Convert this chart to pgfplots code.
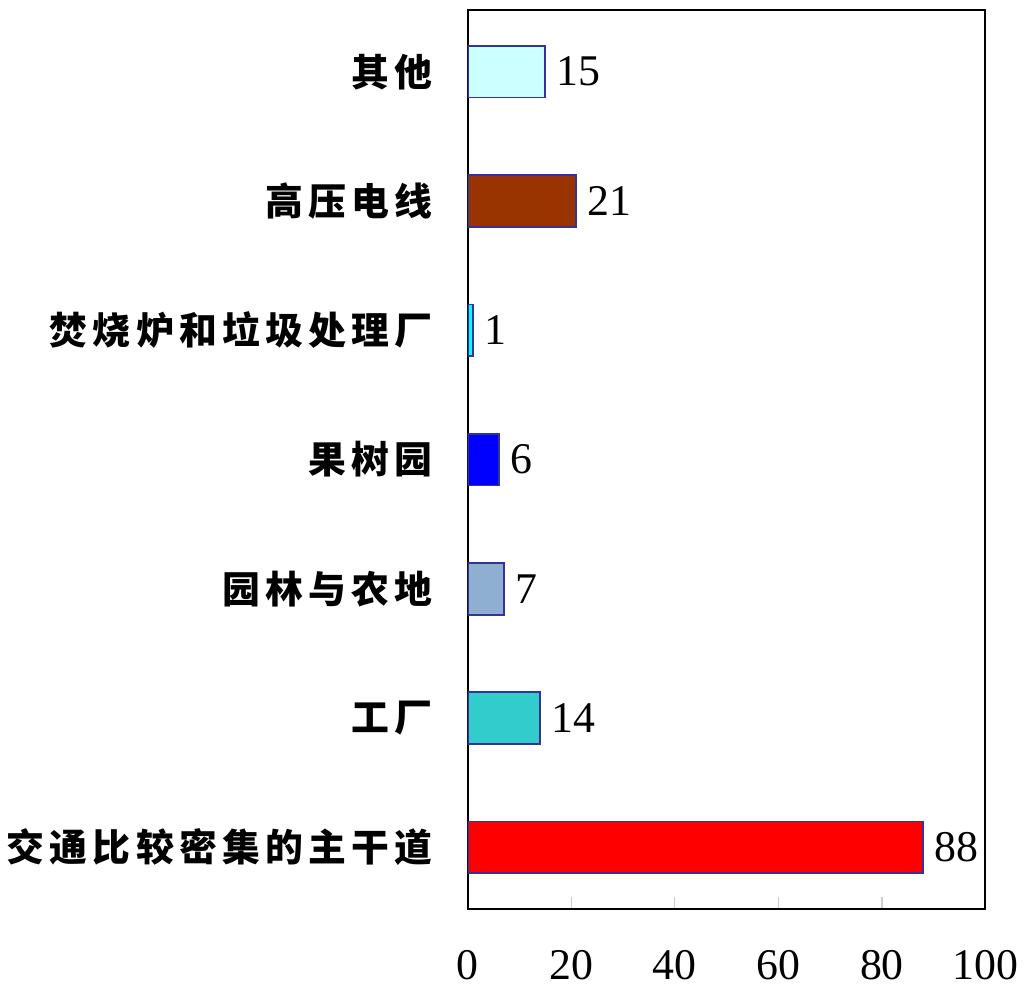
\documentclass[border=0pt]{standalone}
\usepackage{fontspec}
\setmainfont{Liberation Serif}
\newfontfamily\cjk{Noto Sans CJK SC}[LetterSpace=14]
\usepackage{pgfplots}
\pgfplotsset{compat=1.18}
\usetikzlibrary{calc}

\definecolor{edge}{HTML}{333399}
\definecolor{cOther}{HTML}{CCFFFF}
\definecolor{cPower}{HTML}{993300}
\definecolor{cIncin}{HTML}{00FFFF}
\definecolor{cOrch}{HTML}{0000FF}
\definecolor{cGarden}{HTML}{8FAFD0}
\definecolor{cFactory}{HTML}{33CCCC}
\definecolor{cRoad}{HTML}{FF0000}

\begin{document}
\begin{tikzpicture}
\begin{axis}[
  name=a,
  xbar,
  bar shift=0pt,
  bar width=0.4,
  scale only axis,
  width=260pt, height=451.5pt,
  xmin=0, xmax=100,
  ymin=-0.478, ymax=6.478,
  xtick={0,20,40,60,80,100},
  ytick={0,1,2,3,4,5,6},
  yticklabels={交通比较密集的主干道,工厂,园林与农地,果树园,焚烧炉和垃圾处理厂,高压电线,其他},
  yticklabel style={font=\cjk\bfseries\fontsize{19}{19}\selectfont, anchor=east, xshift=-14pt},
  ytick style={draw=none},
  xticklabel style={font=\fontsize{22}{22}\selectfont, yshift=-17pt},
  /pgf/number format/assume math mode=true,
  tick align=inside,
  xtick pos=bottom,
  major tick length=6pt,
  xtick style={draw=gray!40, line width=0.6pt},
  axis line style={black, line width=1pt},
  nodes near coords,
  nodes near coords style={font=\fontsize{22}{22}\selectfont, anchor=west, xshift=2pt},
  every axis plot/.append style={draw=edge, line width=0.9pt},
]
\addplot[fill=cRoad] coordinates {(88,0)};
\addplot[fill=cFactory] coordinates {(14,1)};
\addplot[fill=cGarden] coordinates {(7,2)};
\addplot[fill=cOrch] coordinates {(6,3)};
\addplot[fill=cIncin] coordinates {(1,4)};
\addplot[fill=cPower] coordinates {(21,5)};
\addplot[fill=cOther] coordinates {(15,6)};
\end{axis}
\path (a.south west) ++(-233pt,-44pt) rectangle ($(a.north east)+(19.5pt,5pt)$);
\end{tikzpicture}
\end{document}
